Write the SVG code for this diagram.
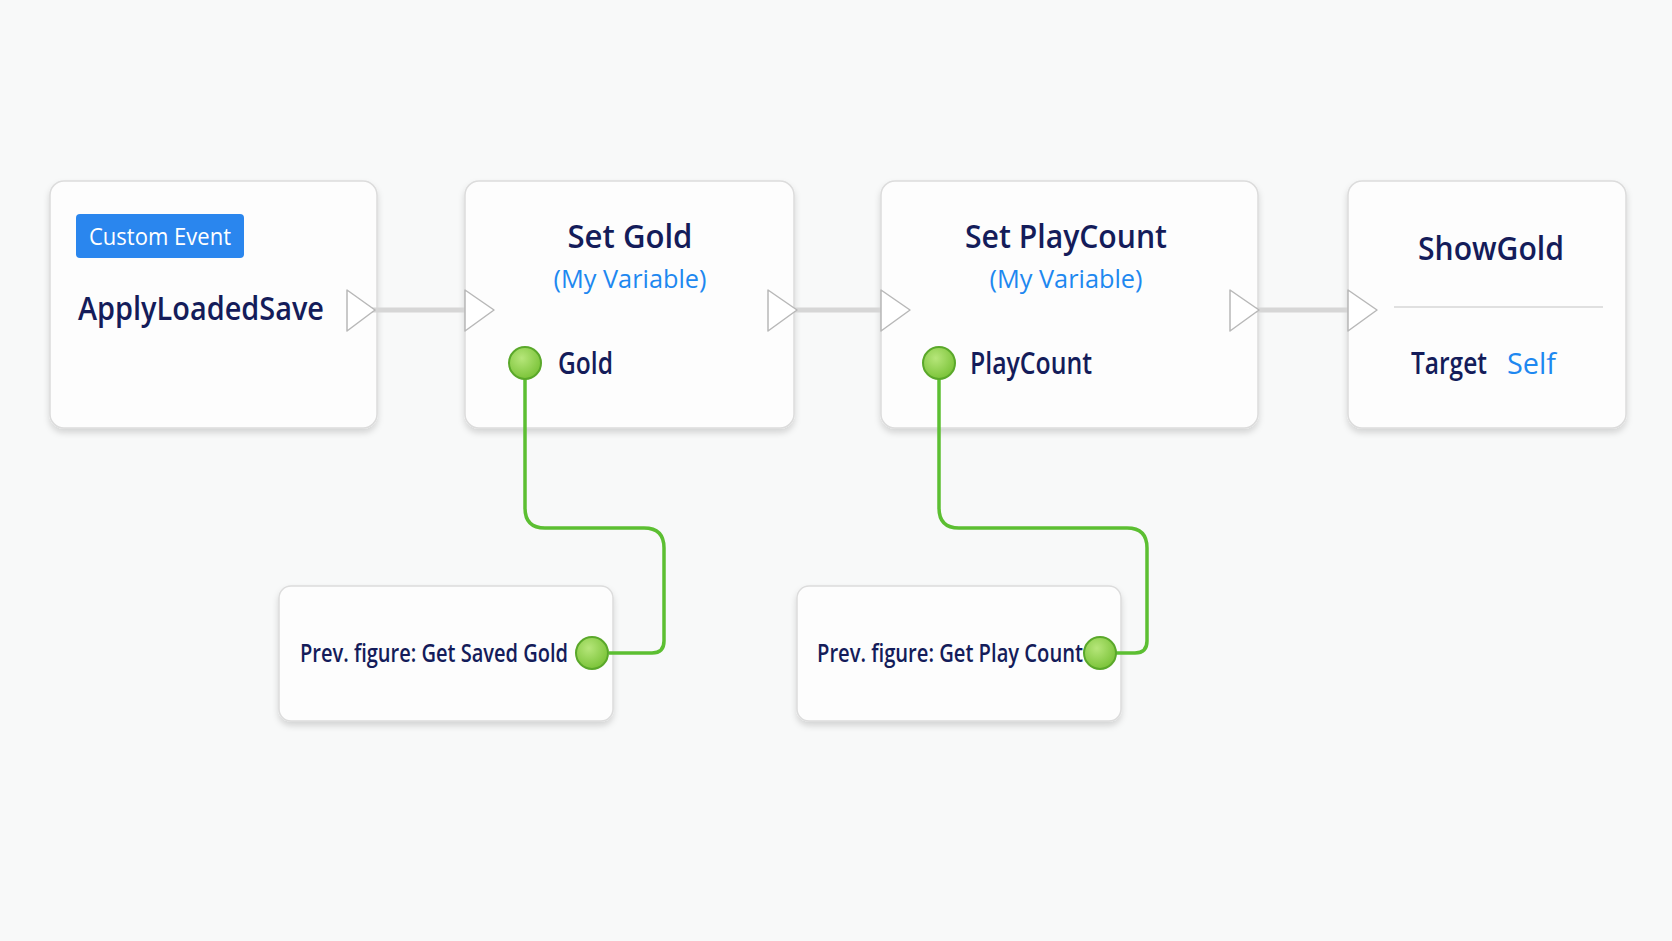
<svg xmlns="http://www.w3.org/2000/svg" width="1672" height="941" viewBox="0 0 1672 941">
<defs>
<filter id="sh" x="-10%" y="-10%" width="120%" height="130%"><feDropShadow dx="0" dy="4" stdDeviation="3" flood-color="#000" flood-opacity="0.15"/></filter>
<radialGradient id="pg" cx="40%" cy="35%" r="65%"><stop offset="0" stop-color="#b6e67a"/><stop offset="1" stop-color="#7cc43a"/></radialGradient>
</defs>
<style>
.node{fill:#fdfdfd;stroke:#dcdcdc;stroke-width:1.5;filter:url(#sh)}
.t{font-family:"Open Sans","Liberation Sans",sans-serif;fill:#141c5a;font-weight:600}
.b{font-family:"Open Sans","Liberation Sans",sans-serif;fill:#1e88f0;font-weight:500}
.exec{fill:#fff;stroke:#b8b8b8;stroke-width:1.5;stroke-linejoin:round}
.pin{fill:url(#pg);stroke:#5aa82a;stroke-width:2}
.wire{fill:none;stroke:#5cbf32;stroke-width:3.5}
.ew{stroke:#d6d6d6;stroke-width:5}
</style>
<rect width="1672" height="941" fill="#f8f9f9"/>
<g id="n1">
<rect class="node" x="50" y="181" width="327" height="247" rx="14"/>
<rect x="76" y="214" width="168" height="44" rx="4" fill="#2a86ee"/>
<text x="160" y="245" text-anchor="middle" font-family="Open Sans,Liberation Sans,sans-serif" font-size="23" fill="#fff" textLength="142" lengthAdjust="spacingAndGlyphs">Custom Event</text>
<text class="t" x="78" y="320" font-size="33" textLength="246" lengthAdjust="spacingAndGlyphs">ApplyLoadedSave</text>
</g>
<g id="n2">
<rect class="node" x="465" y="181" width="329" height="247" rx="14"/>
<text class="t" x="630" y="248" font-size="33" text-anchor="middle" textLength="125" lengthAdjust="spacingAndGlyphs">Set Gold</text>
<text class="b" x="630" y="288" font-size="26" text-anchor="middle" textLength="153" lengthAdjust="spacingAndGlyphs">(My Variable)</text>
<text class="t" x="558" y="374" font-size="30" textLength="55" lengthAdjust="spacingAndGlyphs">Gold</text>
</g>
<g id="n3">
<rect class="node" x="881" y="181" width="377" height="247" rx="14"/>
<text class="t" x="1066" y="248" font-size="33" text-anchor="middle" textLength="202" lengthAdjust="spacingAndGlyphs">Set PlayCount</text>
<text class="b" x="1066" y="288" font-size="26" text-anchor="middle" textLength="153" lengthAdjust="spacingAndGlyphs">(My Variable)</text>
<text class="t" x="970" y="374" font-size="30" textLength="122" lengthAdjust="spacingAndGlyphs">PlayCount</text>
</g>
<g id="n4">
<rect class="node" x="1348" y="181" width="278" height="247" rx="14"/>
<text class="t" x="1491" y="260" font-size="33" text-anchor="middle" textLength="146" lengthAdjust="spacingAndGlyphs">ShowGold</text>
<line x1="1394" y1="307" x2="1603" y2="307" stroke="#e0e0e0" stroke-width="2"/>
<text class="t" x="1411" y="374" font-size="30" textLength="76" lengthAdjust="spacingAndGlyphs">Target</text>
<text class="b" x="1507" y="374" font-size="30" textLength="49" lengthAdjust="spacingAndGlyphs">Self</text>
</g>
<g id="n5">
<rect class="node" x="279" y="586" width="334" height="135" rx="12"/>
<text class="t" x="300" y="662" font-size="26" textLength="268" lengthAdjust="spacingAndGlyphs">Prev. figure: Get Saved Gold</text>
</g>
<g id="n6">
<rect class="node" x="797" y="586" width="324" height="135" rx="12"/>
<text class="t" x="817" y="662" font-size="26" textLength="266" lengthAdjust="spacingAndGlyphs">Prev. figure: Get Play Count</text>
</g>
<g id="connectors">
<line class="ew" x1="372" y1="310" x2="468" y2="310"/>
<line class="ew" x1="794" y1="310" x2="884" y2="310"/>
<line class="ew" x1="1256" y1="310" x2="1351" y2="310"/>
<path class="wire" d="M525 379 V508 Q525 528 545 528 H644 Q664 528 664 548 V641 Q664 653 652 653 H609"/>
<path class="wire" d="M939 379 V508 Q939 528 959 528 H1127 Q1147 528 1147 548 V641 Q1147 653 1135 653 H1116"/>
</g>
<g id="pins">
<path class="exec" d="M347 290 L375 310 L347 331 Z"/>
<path class="exec" d="M465 290 L494 310 L465 331 Z"/>
<path class="exec" d="M768 290 L797 310 L768 331 Z"/>
<path class="exec" d="M881 290 L910 310 L881 331 Z"/>
<path class="exec" d="M1230 290 L1259 310 L1230 331 Z"/>
<path class="exec" d="M1348 290 L1377 310 L1348 331 Z"/>
<circle class="pin" cx="525" cy="363" r="16"/>
<circle class="pin" cx="939" cy="363" r="16"/>
<circle class="pin" cx="592" cy="653" r="16"/>
<circle class="pin" cx="1100" cy="653" r="16"/>
</g>
</svg>
